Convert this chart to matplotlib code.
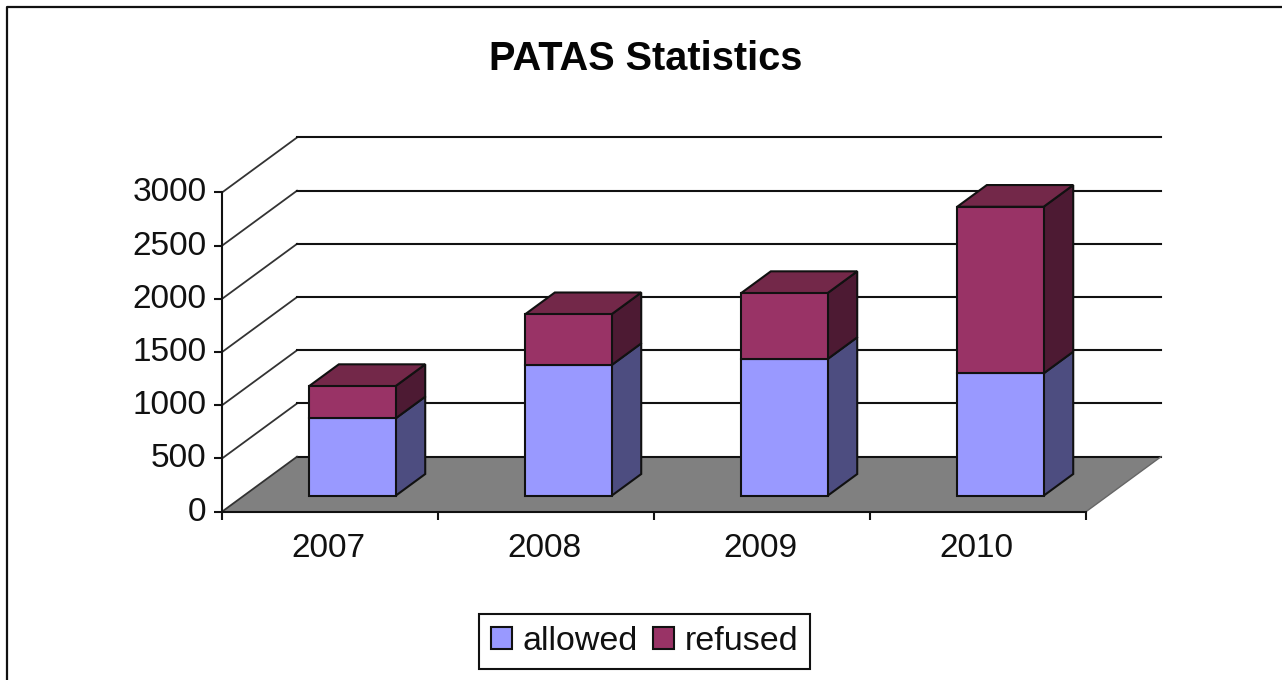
import matplotlib
matplotlib.use("Agg")
import matplotlib.pyplot as plt
from matplotlib.patches import Polygon, Patch
from matplotlib.lines import Line2D
from matplotlib.transforms import ScaledTranslation

plt.rcParams['font.family'] = ['Liberation Sans', 'DejaVu Sans']

title = "PATAS Statistics"
years = ["2007", "2008", "2009", "2010"]
allowed = [727, 1228, 1285, 1150]
refused = [304, 478, 620, 1566]
y_ticks = [0, 500, 1000, 1500, 2000, 2500, 3000]
series_names = ["allowed", "refused"]

W, H = 1282, 680
AX_L, AX_R, AX_T, AX_B = 222, 1086, 192.5, 511.7
X_PX = (AX_R - AX_L) / len(years)
Y_PX = (AX_B - AX_T) / y_ticks[-1]
DX = 75 / X_PX            # full depth in x units
DY = 55 / Y_PX            # full depth in y units
D0, D1 = 0.29, 0.685      # bar depth range (fraction of floor depth)
BAR_W = 0.40
EDGE = "#111111"

C_FRONT = ["#9999FF", "#993366"]
C_SIDE = ["#4D4D80", "#4D1A33"]
C_TOP = "#732849"

fig = plt.figure(figsize=(W / 100, H / 100), dpi=100, facecolor="white")
ax = fig.add_axes([AX_L / W, 1 - AX_B / H, (AX_R - AX_L) / W, (AX_B - AX_T) / H])
ax.set_xlim(0, len(years))
ax.set_ylim(0, y_ticks[-1])
ax.patch.set_visible(False)


def pt(x, y, d):
    return (x + d * DX, y + d * DY)


def poly(pts, face, z, lw=1.5, edge=EDGE):
    ax.add_patch(Polygon(pts, closed=True, facecolor=face, edgecolor=edge,
                         linewidth=lw, zorder=z, clip_on=False, joinstyle="miter"))


n = len(years)
# floor
poly([pt(0, 0, 0), pt(n, 0, 0), pt(n, 0, 1), pt(0, 0, 1)], "#808080", 1, lw=0)
ax.add_line(Line2D(*zip(pt(0, 0, 1), pt(n, 0, 1)), color=EDGE, lw=1.5, zorder=1.5, clip_on=False))
ax.add_line(Line2D(*zip(pt(n, 0, 0), pt(n, 0, 1)), color="#666666", lw=1.0, zorder=1.5, clip_on=False))

# walls / gridlines
for v in y_ticks:
    a, b, c = pt(0, v, 0), pt(0, v, 1), pt(n, v, 1)
    ax.add_line(Line2D([a[0], b[0]], [a[1], b[1]], color="#333333", lw=1.3, zorder=2, clip_on=False))
    if v > 0:
        ax.add_line(Line2D([b[0], c[0]], [b[1], c[1]], color=EDGE, lw=1.5, zorder=2, clip_on=False))

# bars
for i, (al, re) in enumerate(zip(allowed, refused)):
    x0 = i + 0.503 - BAR_W / 2
    x1 = x0 + BAR_W
    base = 0
    for j, val in enumerate((al, re)):
        top = base + val
        poly([pt(x1, base, D0), pt(x1, base, D1), pt(x1, top, D1), pt(x1, top, D0)], C_SIDE[j], 3)
        poly([pt(x0, base, D0), pt(x1, base, D0), pt(x1, top, D0), pt(x0, top, D0)], C_FRONT[j], 4)
        base = top
    poly([pt(x0, base, D0), pt(x1, base, D0), pt(x1, base, D1), pt(x0, base, D1)], C_TOP, 3)

# axes
for s in ("top", "right"):
    ax.spines[s].set_visible(False)
for s in ("left", "bottom"):
    ax.spines[s].set_linewidth(1.5)
    ax.spines[s].set_color(EDGE)
    ax.spines[s].set_zorder(5)
ax.set_yticks(y_ticks)
ax.set_yticklabels([str(v) for v in y_ticks])
ax.set_xticks(range(n + 1))
ax.set_xticklabels([""] * (n + 1))
ax.set_xticks([i + 0.5 for i in range(n)], labels=years, minor=True)
ax.tick_params(axis="x", which="minor", length=0, labelsize=24, pad=15, labelcolor="#111111")
ax.tick_params(axis="x", which="major", length=6, width=1.5, color=EDGE)
ax.tick_params(axis="y", length=6, width=1.5, color=EDGE, labelsize=24, pad=5, labelcolor="#111111")
shift = ScaledTranslation(0, 3 / 100, fig.dpi_scale_trans)
for lab in ax.get_yticklabels():
    lab.set_transform(lab.get_transform() + shift)
shift_x = ScaledTranslation(-1.5 / 100, 0, fig.dpi_scale_trans)
for lab in ax.get_xticklabels(minor=True):
    lab.set_transform(lab.get_transform() + shift_x)

fig.text(645.5 / W, 1 - 59 / H, title, ha="center", va="center",
         fontsize=28.6, fontweight="bold", color="#050505")

handles = [Patch(facecolor=C_FRONT[k], edgecolor=EDGE, linewidth=1.5, label=series_names[k]) for k in range(2)]
leg = fig.legend(handles=handles, ncol=2, loc="center",
                 bbox_to_anchor=(644.5 / W, 1 - 641.5 / H), fontsize=24.5, frameon=True,
                 fancybox=False, edgecolor=EDGE, framealpha=1,
                 handlelength=0.62, handleheight=0.62, handletextpad=0.32,
                 columnspacing=0.44, borderpad=0.35, labelcolor="#111111")
leg.get_frame().set_linewidth(1.5)

# outer chart border (open on the right and bottom, as cropped)
fig.add_artist(Line2D([7 / W, 7 / W, 1], [0, 1 - 7 / H, 1 - 7 / H], transform=fig.transFigure,
                      color="#111111", lw=1.6))

fig.savefig("out.png", dpi=100)
